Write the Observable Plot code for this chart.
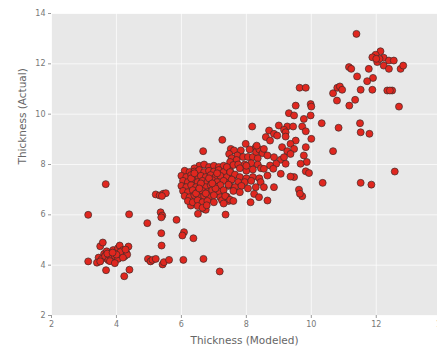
<!DOCTYPE html>
<html>
<head>
<meta charset="utf-8">
<script src="https://cdn.jsdelivr.net/npm/d3@7"></script>
<script src="https://cdn.jsdelivr.net/npm/@observablehq/plot@0.6"></script>
<style>
  html, body { margin: 0; padding: 0; background: #fff; overflow: hidden; }
  #chart { width: 437px; height: 347px; overflow: hidden; }
</style>
</head>
<body>
<div id="chart"></div>
<script>
const xTicks = [2, 4, 6, 8, 10, 12];
const xEdgeTicks = [14];
const yTicks = [2, 4, 6, 8, 10, 12, 14];
const xLabel = "Thickness (Modeled)";
const yLabel = "Thickness (Actual)";

const thicknessModeled = [
  // lower-left cluster
  3.13,3.13,3.67,4.39,3.5,3.58,3.62,3.7,3.8,3.9,4.0,4.05,4.1,4.2,4.3,4.37,3.45,3.55,3.65,3.75,3.85,3.95,4.05,4.15,4.25,4.33,3.4,3.5,3.8,3.95,4.12,4.2,3.72,4.0,3.88,4.28,3.68,4.24,4.4,
  // x 4.9-7.4 sparse
  4.95,4.97,5.05,5.11,5.21,5.42,5.46,5.62,6.06,6.68,7.18,5.39,5.38,6.08,6.03,6.37,5.85,5.36,5.41,5.38,5.21,5.33,5.44,5.52,5.4,6.29,6.51,6.68,6.75,7.36,
  // dense blob
  6.55,6.7,6.85,7.0,7.15,7.3,6.4,7.45,
  6.1,6.25,6.4,6.55,6.7,6.85,7.0,7.15,7.3,7.5,
  6.0,6.15,6.3,6.45,6.6,6.75,6.9,7.05,7.2,7.4,7.6,
  6.05,6.2,6.35,6.5,6.65,6.8,6.95,7.1,7.3,7.5,
  6.0,6.15,6.3,6.45,6.6,6.75,6.9,7.05,7.2,7.45,
  6.05,6.2,6.35,6.5,6.65,6.8,6.95,7.15,7.3,
  6.1,6.25,6.4,6.55,6.7,6.85,7.0,7.2,7.4,
  6.2,6.35,6.5,6.65,6.8,7.0,7.25,7.45,
  6.5,6.65,6.78,7.3,
  6.3,6.6,6.85,7.1,6.45,6.75,7.05,6.55,6.95,6.4,
  // x 7.3-8.6 cluster
  7.26,6.67,7.52,7.98,8.29,7.62,7.83,7.47,7.72,7.9,8.05,8.2,8.35,7.55,7.7,7.5,7.6,7.75,7.95,8.15,8.35,7.8,8.0,8.2,8.45,7.4,7.5,7.65,7.8,8.0,8.2,8.4,7.55,7.75,7.95,8.15,7.45,7.65,7.85,8.05,7.6,7.8,7.35,7.5,7.6,8.0,8.3,8.1,8.4,8.5,
  // x 8-9.2
  8.18,8.7,8.6,8.85,8.73,8.32,8.54,9.1,8.65,8.85,9.06,9.21,8.92,8.73,8.83,8.54,9.06,8.85,8.65,8.44,8.29,8.54,8.24,8.65,8.39,8.13,
  // x 9-10.4
  9.64,9.83,9.52,9.98,10.0,9.98,9.31,9.47,9.77,9.0,9.26,9.44,9.72,9.16,9.21,9.83,9.21,8.95,9.52,10.0,9.36,9.47,9.83,9.26,9.36,9.16,9.77,9.86,9.67,9.83,9.93,9.47,9.36,9.62,9.72,9.65,10.32,10.35,
  // x 10.5+
  10.67,10.8,10.88,10.95,10.79,11.17,11.35,10.84,10.67,11.39,12.13,11.98,11.88,12.23,12.39,12.54,12.03,12.23,12.39,12.75,12.83,11.16,11.23,11.77,11.41,11.9,11.72,11.52,11.88,12.34,12.49,12.42,12.7,11.5,11.52,11.79,12.57,11.52,11.85,12.1,12.0
];

const thicknessActual = [
  6.0,4.15,7.22,6.02,4.75,4.9,4.45,4.55,4.4,4.6,4.5,4.68,4.78,4.6,4.5,4.74,4.3,4.25,4.36,4.2,4.3,4.36,4.25,4.42,4.35,4.42,4.1,4.15,4.16,4.08,4.52,4.3,4.46,4.42,4.5,4.62,3.8,3.56,3.82,
  5.67,4.25,4.15,4.21,4.25,4.03,4.12,4.21,4.21,4.25,3.75,4.78,5.27,5.31,5.18,5.07,5.8,6.1,5.97,5.9,6.81,6.77,6.84,6.86,6.75,6.37,6.04,6.24,6.2,6.01,
  7.95,8.0,7.9,7.95,7.9,7.95,7.85,7.9,
  7.75,7.7,7.72,7.78,7.7,7.75,7.72,7.78,7.7,7.75,
  7.55,7.5,7.58,7.5,7.55,7.5,7.58,7.5,7.55,7.5,7.55,
  7.35,7.3,7.38,7.3,7.35,7.3,7.38,7.3,7.35,7.3,
  7.15,7.1,7.18,7.1,7.15,7.1,7.18,7.12,7.18,7.15,
  6.95,6.9,6.98,6.9,6.95,6.9,6.98,6.92,6.98,
  6.75,6.7,6.78,6.7,6.75,6.7,6.78,6.7,6.72,
  6.55,6.5,6.58,6.5,6.55,6.5,6.58,6.55,
  6.35,6.28,6.38,6.45,
  7.45,7.25,7.45,7.65,6.85,6.85,7.05,7.05,7.25,7.65,
  8.98,8.53,8.62,8.82,8.69,8.56,8.56,8.42,8.36,8.3,8.3,8.3,8.25,8.25,8.18,8.1,7.98,8.0,8.0,8.05,8.0,7.85,7.75,7.8,7.85,7.9,7.7,7.6,7.5,7.45,7.5,7.45,7.4,7.3,7.3,7.35,7.2,7.1,7.15,7.05,6.95,6.9,6.75,6.6,6.55,7.95,8.5,8.6,8.6,8.45,
  9.51,9.35,9.09,9.22,8.95,8.75,8.62,8.69,8.36,8.29,8.19,8.03,8.03,7.96,7.83,7.83,7.63,7.1,7.56,7.3,7.1,7.1,6.83,6.57,6.7,6.5,
  11.05,11.05,10.34,10.4,10.3,9.95,10.04,9.95,9.81,9.55,9.51,9.51,9.51,9.38,9.28,9.32,9.11,9.15,8.95,9.02,8.82,8.62,8.69,8.53,8.42,8.29,8.36,8.1,8.03,7.73,7.66,7.5,7.52,7.0,6.74,6.84,9.64,7.27,
  10.83,11.05,11.1,10.97,10.54,10.34,10.57,9.46,8.53,13.19,12.5,12.36,12.26,12.24,12.13,12.13,12.07,11.93,11.8,11.8,11.93,11.87,11.8,11.8,11.5,11.44,11.31,10.97,10.97,10.94,10.94,10.94,10.3,9.64,9.28,9.22,7.72,7.27,7.2,12.2,12.2
];

const points = thicknessModeled.map((x, i) => ({x, y: thicknessActual[i]}));

const chart = Plot.plot({
  width: 437,
  height: 347,
  marginLeft: 51,
  marginRight: 0,
  marginTop: 13,
  marginBottom: 32,
  style: {fontFamily: "DejaVu Sans, sans-serif", background: "#fff", color: "#777", fontSize: "8px"},
  x: {domain: [2, 13.886]},
  y: {domain: [2, 14]},
  marks: [
    Plot.frame({fill: "#e8e8e8", stroke: null}),
    Plot.gridX(xTicks, {stroke: "#fff", strokeOpacity: 0.7, strokeWidth: 1}),
    Plot.gridY(yTicks, {stroke: "#fff", strokeOpacity: 0.7, strokeWidth: 1}),
    Plot.axisX(xTicks, {tickSize: 3, tickPadding: 3, stroke: "#999", fill: "#777", fontSize: 8, label: null}),
    Plot.axisX(xEdgeTicks, {tickSize: 0, tickPadding: 6, fill: "#777", fontSize: 8, label: null}),
    Plot.axisY(yTicks, {tickSize: 3, tickPadding: 3, stroke: "#999", fill: "#777", fontSize: 8, label: null}),
    Plot.text([xLabel], {frameAnchor: "bottom", dy: 25, text: d => d, fontSize: 10.5, fill: "#666", lineAnchor: "middle"}),
    Plot.text([yLabel], {frameAnchor: "left", dx: -29, text: d => d, fontSize: 10.5, fill: "#666", rotate: -90, lineAnchor: "middle"}),
    Plot.dot(points, {x: "x", y: "y", r: 3.5, fill: "#e0271f", stroke: "#3d2b29", strokeWidth: 0.7})
  ]
});
document.getElementById("chart").appendChild(chart);
</script>
</body>
</html>
